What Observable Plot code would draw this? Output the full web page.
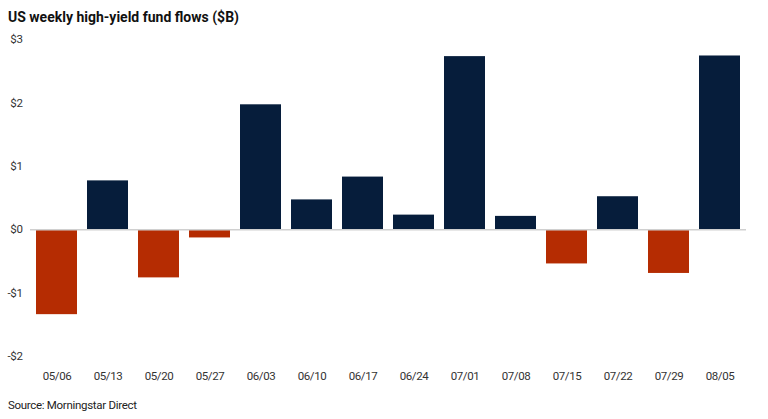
<!DOCTYPE html>
<html>
<head>
<meta charset="utf-8">
<script src="https://cdn.jsdelivr.net/npm/d3@7"></script>
<script src="https://cdn.jsdelivr.net/npm/@observablehq/plot@0.6"></script>
<style>
  html, body { margin: 0; padding: 0; background: #fff; }
  #title { font-family: Roboto, "Noto Sans", sans-serif; font-weight: 700; font-size: 14px; color: #111; height: 30px; line-height: 34px; padding-left: 8px; }
  #caption { font-family: Roboto, sans-serif; font-size: 11.5px; color: #222; height: 20px; line-height: 20px; padding-left: 8px; letter-spacing: -0.3px; }
</style>
</head>
<body>
<div id="title">US weekly high-yield fund flows ($B)</div>
<div id="chart"></div>
<div id="caption">Source: Morningstar Direct</div>
<script>
const weeks = ["05/06","05/13","05/20","05/27","06/03","06/10","06/17","06/24","07/01","07/08","07/15","07/22","07/29","08/05"];
const flows = [-1.34, 0.77, -0.76, -0.13, 1.97, 0.47, 0.83, 0.23, 2.73, 0.21, -0.54, 0.52, -0.69, 2.74];
const yTicks = [-2, -1, 0, 1, 2, 3];

const data = weeks.map((w, i) => ({week: w, flow: flows[i]}));
const fmt = d => (d < 0 ? "-$" + Math.abs(d) : "$" + d);

const chart = Plot.plot({
  width: 768,
  height: 365,
  marginTop: 9,
  marginBottom: 39,
  marginLeft: 30,
  marginRight: 22,
  style: {fontFamily: 'Roboto, sans-serif', fontSize: "11.5px", color: "#333", letterSpacing: "-0.4px"},
  x: {domain: weeks, paddingInner: 0.2, paddingOuter: 0.09, label: null},
  y: {domain: [-2, 3], label: null},
  marks: [
    Plot.barY(data, {x: "week", y: "flow", fill: d => d.flow >= 0 ? "#061d3b" : "#b52c02"}),
    Plot.ruleY([0], {stroke: "#d0d0d0", strokeWidth: 1.5}),
    Plot.axisY({ticks: yTicks, tickSize: 0, tickPadding: 8, tickFormat: fmt, label: null}),
    Plot.axisX({tickSize: 0, tickPadding: 15, label: null})
  ]
});
document.getElementById("chart").appendChild(chart);
</script>
</body>
</html>
